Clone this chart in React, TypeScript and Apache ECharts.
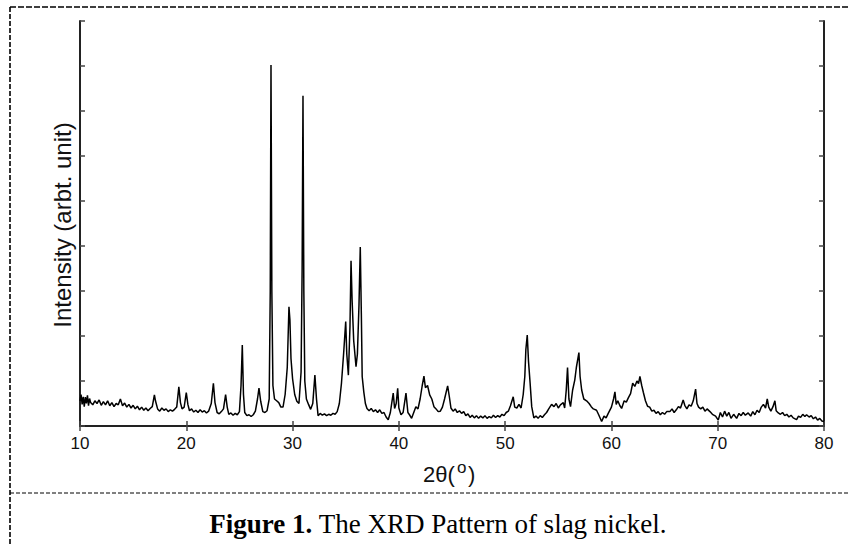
import React, { useEffect, useRef } from "react";
import * as echarts from "echarts";

// 2θ positions (degrees)
const angles: number[] = [
  10.0, 10.1, 10.2, 10.3, 10.4, 10.5, 10.6, 10.7, 10.8, 10.9, 11.0, 11.2, 11.4, 11.6, 11.8, 12.0, 12.2, 12.4, 12.6, 12.8, 13.0, 13.2, 13.4, 13.6, 13.8,
  14.0, 14.2, 14.4, 14.6, 14.8, 15.0, 15.2, 15.4, 15.6, 15.8, 16.0, 16.2, 16.4, 16.6, 16.8, 17.0, 17.1, 17.3, 17.5, 17.7,
  17.9, 18.1, 18.3, 18.5, 18.7, 18.9, 19.1, 19.3, 19.45, 19.6, 19.8, 20.0, 20.15, 20.3, 20.5, 20.7, 20.9, 21.1, 21.3, 21.5,
  21.7, 21.9, 22.1, 22.35, 22.55, 22.7, 22.9, 23.1, 23.3, 23.5, 23.7, 23.85, 24.0, 24.2, 24.4, 24.6, 24.8, 25.0, 25.15, 25.27,
  25.38, 25.5, 25.7, 25.9, 26.1, 26.3, 26.5, 26.7, 26.84, 27.0, 27.2, 27.4, 27.6, 27.8, 27.9, 27.97, 28.05, 28.15, 28.3, 28.5,
  28.7, 28.9, 29.1, 29.3, 29.5, 29.66, 29.75, 29.85, 30.0, 30.2, 30.4, 30.6, 30.8, 30.9, 30.98, 31.06, 31.15, 31.3, 31.5, 31.7,
  31.9, 32.1, 32.25, 32.4, 32.6, 32.8, 33.0, 33.2, 33.4, 33.6, 33.8, 34.0, 34.2, 34.4, 34.6, 34.8, 35.0, 35.1, 35.25, 35.4,
  35.5, 35.6, 35.75, 35.97, 36.1, 36.25, 36.37, 36.47, 36.55, 36.7, 36.85, 37.0, 37.2, 37.4, 37.6, 37.8, 38.0, 38.2, 38.4, 38.6,
  38.8, 39.0, 39.2, 39.47, 39.6, 39.75, 39.89, 40.0, 40.2, 40.4, 40.67, 40.85, 41.0, 41.2, 41.4, 41.6, 41.8, 42.0, 42.2, 42.36,
  42.5, 42.7, 42.9, 43.1, 43.3, 43.5, 43.7, 43.9, 44.1, 44.3, 44.59, 44.75, 44.9, 45.1, 45.3, 45.5, 45.7, 45.9, 46.1, 46.3,
  46.5, 46.7, 46.9, 47.1, 47.3, 47.5, 47.7, 47.9, 48.1, 48.3, 48.5, 48.7, 48.9, 49.1, 49.3, 49.5, 49.7, 49.9, 50.1, 50.3,
  50.5, 50.76, 50.9, 51.1, 51.3, 51.5, 51.7, 51.85, 51.95, 52.08, 52.2, 52.35, 52.5, 52.7, 52.9, 53.1, 53.3, 53.5, 53.7, 53.9,
  54.1, 54.37, 54.6, 54.8, 55.0, 55.2, 55.47, 55.6, 55.75, 55.87, 56.0, 56.15, 56.35, 56.55, 56.7, 56.94, 57.05, 57.2, 57.4, 57.66,
  57.9, 58.1, 58.3, 58.6, 58.8, 59.08, 59.3, 59.5, 59.7, 60.0, 60.2, 60.33, 60.45, 60.6, 60.8, 60.96, 61.2, 61.4, 61.6, 61.8,
  62.0, 62.2, 62.4, 62.55, 62.68, 62.85, 63.0, 63.2, 63.4, 63.6, 63.8, 64.0, 64.2, 64.4, 64.6, 64.8, 65.0, 65.2, 65.5, 65.7,
  65.9, 66.1, 66.3, 66.5, 66.75, 66.9, 67.1, 67.3, 67.5, 67.7, 67.92, 68.05, 68.2, 68.4, 68.6, 68.8, 69.0, 69.27, 69.5, 69.8,
  70.05, 70.25, 70.45, 70.65, 70.85, 71.05, 71.25, 71.5, 71.78, 72.0, 72.2, 72.4, 72.6, 72.87, 73.1, 73.3, 73.5, 73.7, 73.9, 74.1,
  74.3, 74.5, 74.66, 74.8, 75.0, 75.2, 75.38, 75.5, 75.7, 75.9, 76.1, 76.3, 76.5, 76.7, 76.9, 77.1, 77.42, 77.6, 77.8, 78.0,
  78.2, 78.36, 78.6, 78.8, 79.0, 79.2, 79.4, 79.6, 79.8, 80.0,
];

// Intensity (arbitrary units) at each 2θ
const counts: number[] = [
  560, 700, 480, 650, 430, 640, 500, 680, 450, 610, 520, 470, 560, 500, 580, 460, 540, 470, 560, 450, 520, 430, 500, 470, 600,
  450, 510, 420, 480, 400, 460, 380, 440, 360, 420, 350, 400, 340, 390, 430, 690, 560, 380, 330, 400,
  350, 380, 320, 360, 330, 370, 420, 870, 520, 380, 420, 740, 480, 340, 380, 310, 350, 300, 360, 310,
  340, 290, 330, 500, 950, 520, 300, 270, 320, 380, 700, 420, 260, 290, 240, 280, 250, 320, 900, 1800,
  700, 300, 230, 250, 210, 250, 330, 600, 840, 550, 320, 300, 340, 600, 3000, 8020, 3000, 900, 600, 560,
  520, 420, 420, 700, 1300, 2650, 2360, 1500, 1050, 700, 550, 500, 1200, 3500, 7340, 3000, 1000, 600, 480, 370,
  500, 1130, 600, 230, 280, 240, 270, 230, 260, 240, 280, 260, 320, 500, 950, 1600, 2320, 1600, 1130, 2200,
  3670, 2800, 1900, 1320, 1600, 2700, 3980, 2500, 1100, 760, 500, 390, 340, 390, 320, 360, 300, 360, 280, 300,
  200, 140, 300, 730, 390, 500, 840, 400, 250, 300, 730, 300, 250, 170, 300, 430, 380, 600, 900, 1110,
  850, 900, 690, 600, 430, 380, 320, 330, 420, 600, 890, 650, 400, 330, 380, 300, 340, 280, 320, 230,
  270, 190, 240, 180, 230, 170, 220, 180, 230, 170, 210, 180, 240, 190, 230, 200, 260, 230, 300, 330,
  450, 650, 420, 400, 480, 400, 700, 1100, 1700, 2020, 1430, 950, 430, 180, 220, 170, 230, 190, 250, 300,
  380, 480, 430, 500, 400, 470, 520, 400, 800, 1300, 600, 430, 800, 1020, 1300, 1630, 1100, 800, 600, 560,
  500, 430, 380, 350, 250, 100, 220, 180, 280, 420, 600, 760, 480, 560, 450, 390, 560, 530, 630, 720,
  950, 880, 1000, 940, 1100, 900, 750, 560, 440, 420, 330, 350, 280, 320, 250, 300, 260, 320, 320, 380,
  300, 360, 430, 400, 580, 460, 380, 470, 440, 560, 820, 500, 420, 380, 420, 330, 380, 320, 260, 220,
  130, 300, 200, 330, 220, 300, 170, 260, 170, 280, 230, 300, 240, 290, 220, 320, 250, 350, 300, 420,
  480, 400, 600, 420, 330, 430, 560, 340, 290, 260, 300, 230, 260, 200, 240, 180, 140, 220, 190, 260,
  210, 250, 200, 230, 160, 200, 130, 170, 110, 100,
];

const xMin = 10;
const xMax = 80;
const xStep = 10;
const yMin = 0;
const yMax = 9000;
const yStep = 1000;

const yTitle = "Intensity (arbt. unit)";
const xTitleMain = "2θ(";
const xTitleSup = "o";
const xTitleEnd = ")";
const captionBold = "Figure 1.";
const captionRest = " The XRD Pattern of slag nickel.";

const SANS = "'Liberation Sans', Arial, Helvetica, sans-serif";
const SERIF = "'Liberation Serif', 'Times New Roman', Times, serif";

export default function App() {
  const ref = useRef<HTMLDivElement>(null);

  useEffect(() => {
    if (!ref.current) return;
    const chart = echarts.init(ref.current, null, { renderer: "svg" });
    const data = angles.map((a, i) => [a, counts[i]]);

    const axisLine = { show: true, lineStyle: { color: "#222", width: 2 } };
    const axisTick = { show: true, inside: true, length: 5, lineStyle: { color: "#444", width: 1.5 } };

    const dashed = (x1: number, y1: number, x2: number, y2: number, w: number, dash: number[]) => ({
      type: "line",
      silent: true,
      shape: { x1, y1, x2, y2 },
      style: { stroke: "#000", lineWidth: w, lineDash: dash },
    });

    chart.setOption({
      animation: false,
      backgroundColor: "#fff",
      grid: { left: 80, right: 25, top: 21, bottom: 118, containLabel: false },
      xAxis: [
        {
          type: "value",
          min: xMin,
          max: xMax,
          interval: xStep,
          position: "bottom",
          axisLine,
          axisTick,
          splitLine: { show: false },
          axisLabel: { color: "#111", fontSize: 17, fontFamily: SANS, margin: 9 },
        },
        {
          type: "value",
          min: xMin,
          max: xMax,
          interval: xStep,
          position: "top",
          axisLine,
          axisTick,
          splitLine: { show: false },
          axisLabel: { show: false },
        },
      ],
      yAxis: [
        {
          type: "value",
          min: yMin,
          max: yMax,
          interval: yStep,
          position: "left",
          axisLine,
          axisTick,
          splitLine: { show: false },
          axisLabel: { show: false },
        },
        {
          type: "value",
          min: yMin,
          max: yMax,
          interval: yStep,
          position: "right",
          axisLine,
          axisTick,
          splitLine: { show: false },
          axisLabel: { show: false },
        },
      ],
      series: [
        {
          type: "line",
          data,
          xAxisIndex: 0,
          yAxisIndex: 0,
          showSymbol: false,
          symbol: "none",
          lineStyle: { color: "#000", width: 1.5 },
          z: 1,
        },
      ],
      graphic: [
        dashed(10, 7, 849, 7, 1.6, [6, 2]),
        dashed(10, 7, 10, 544, 1.6, [5, 2]),
        dashed(10, 493, 849, 493, 1, [4, 2]),
        {
          type: "text",
          x: 62,
          y: 225,
          rotation: Math.PI / 2,
          style: {
            text: yTitle,
            fontFamily: SANS,
            fontSize: 24,
            fill: "#111",
            align: "center",
            verticalAlign: "middle",
          },
        },
        {
          type: "text",
          x: 423,
          y: 474,
          style: { text: xTitleMain, fontFamily: SANS, fontSize: 22, fill: "#111", align: "left", verticalAlign: "middle" },
        },
        {
          type: "text",
          x: 457,
          y: 467,
          style: { text: xTitleSup, fontFamily: SANS, fontSize: 17, fill: "#111", align: "left", verticalAlign: "middle" },
        },
        {
          type: "text",
          x: 468,
          y: 474,
          style: { text: xTitleEnd, fontFamily: SANS, fontSize: 22, fill: "#111", align: "left", verticalAlign: "middle" },
        },
        {
          type: "text",
          x: 438,
          y: 524,
          style: {
            text: "{b|" + captionBold + "}{n|" + captionRest + "}",
            align: "center",
            verticalAlign: "middle",
            rich: {
              b: { fontFamily: SERIF, fontSize: 27, fontWeight: "bold", fill: "#000" },
              n: { fontFamily: SERIF, fontSize: 27, fill: "#000" },
            },
          },
        },
      ],
    });

    return () => chart.dispose();
  }, []);

  return (
    <div
      ref={ref}
      style={{ position: "absolute", left: 0, top: 0, width: 849, height: 544, background: "#fff" }}
    />
  );
}
